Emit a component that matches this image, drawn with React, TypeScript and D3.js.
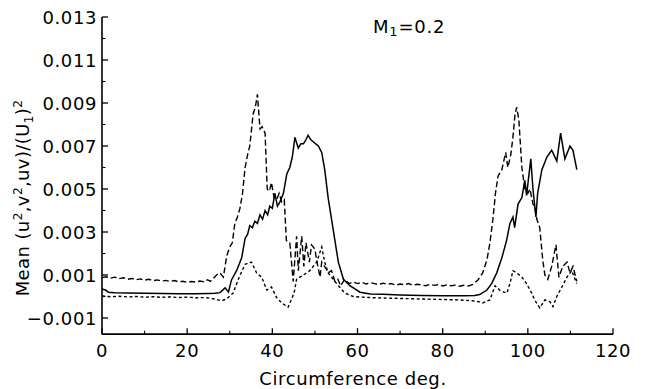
import React from "react";
import * as d3 from "d3";

type Pt = [number, number];

// Degrees along circumference, mean values
const dashedSeries: Pt[] = [
  [0,0.00088],[1,0.00092],[2,0.00085],[3,0.0009],[4,0.00083],[5,0.00087],[6,0.0008],[7,0.00084],[8,0.00078],[9,0.00082],
  [10,0.00076],[11,0.0008],[12,0.00074],[13,0.00077],[14,0.00072],[15,0.00075],[16,0.0007],[17,0.00074],[18,0.00068],[19,0.00071],
  [20,0.00066],[21,0.0007],[22,0.00067],[23,0.00072],[24,0.00068],[24.8,0.00078],[25.4,0.0007],[26.2,0.00085],[26.9,0.001],[27.7,0.0011],
  [28.5,0.0009],[29.3,0.0019],[30,0.0023],[30.6,0.0025],[31.2,0.0034],[31.8,0.0037],[32.4,0.0041],[33,0.0048],[33.6,0.006],[34.2,0.0066],
  [34.7,0.007],[35.5,0.0085],[36,0.0088],[36.5,0.0094],[37.1,0.0078],[37.6,0.0079],[38.3,0.0076],[38.8,0.005],[39.3,0.0049],[39.8,0.0053],
  [40.4,0.0046],[41,0.0045],[41.6,0.0048],[42.2,0.0044],[42.8,0.0045],[43.3,0.0026],[44.1,0.0025],[44.9,0.0007],[45.7,0.0028],[46.1,0.0012],
  [46.9,0.0028],[47.4,0.0014],[47.9,0.0025],[48.7,0.0016],[49.2,0.0024],[50,0.0022],[50.4,0.0017],[51.2,0.0009],[51.6,0.0016],[52.6,0.0013],
  [53.1,0.0011],[53.9,0.0012],[54.7,0.0007],[55.4,0.0008],[56,0.0005],[57,0.0008],[58,0.0006],[59,0.00068],[60,0.0006],[61,0.00066],
  [62,0.00058],[63,0.00064],[64,0.0006],[65,0.00055],[66,0.00062],[67,0.00057],[68,0.0006],[69,0.00053],[70,0.00058],[71,0.00055],
  [72,0.0006],[73,0.00052],[74,0.00057],[75,0.00054],[76,0.0005],[77,0.00056],[78,0.00052],[79,0.00055],[80,0.00049],[81,0.00054],
  [82,0.0005],[83,0.00053],[84,0.00048],[85,0.00052],[86,0.00049],[87,0.00055],[88.3,0.00077],[89.4,0.0011],[90.4,0.0017],[91.1,0.0025],
  [91.8,0.0036],[92.4,0.0048],[93,0.0056],[93.9,0.0059],[94.8,0.0067],[95.3,0.006],[96,0.0066],[96.5,0.0074],[97,0.0085],[97.4,0.0088],
  [97.9,0.0082],[98.6,0.006],[99.3,0.005],[100,0.0048],[100.5,0.005],[101.2,0.0043],[101.6,0.0042],[102.1,0.0036],[102.8,0.0032],[103.5,0.0017],
  [104,0.001],[104.7,0.0008],[105.6,0.0014],[106.6,0.0024],[107.3,0.0009],[108.2,0.0014],[109.2,0.0016],[109.9,0.0011],[110.6,0.0014],[111.5,0.0007],
];

const solidSeries: Pt[] = [
  [0,0.00035],[0.8,0.0003],[1.5,0.0002],[3,0.00017],[6,0.00016],[10,0.00015],[14,0.00014],[18,0.00013],[22,0.00013],[25,0.00014],
  [26.5,0.00015],[27.7,0.00018],[28.9,0.0004],[29.7,0.0002],[30.4,0.00077],[31.6,0.0012],[32.8,0.0018],[33.6,0.0027],[34.2,0.0029],[34.7,0.0033],
  [35.3,0.0032],[35.9,0.0035],[36.5,0.0034],[37.1,0.0038],[37.7,0.0036],[38.3,0.004],[38.9,0.0038],[39.4,0.0042],[40,0.0041],[40.6,0.0048],
  [41.2,0.0042],[41.8,0.0044],[42.6,0.0048],[43.4,0.0057],[44.1,0.006],[44.7,0.0065],[45.3,0.0074],[46.1,0.0069],[46.7,0.0071],[47.3,0.0071],
  [47.9,0.0073],[48.4,0.0075],[49,0.0073],[49.6,0.0072],[50.2,0.0071],[50.8,0.007],[51.6,0.0067],[52.3,0.0059],[53.1,0.0046],[53.9,0.0036],
  [54.7,0.0026],[55.5,0.0016],[56.7,0.0008],[58.2,0.0005],[60.6,0.0002],[63,0.00012],[66,0.0001],[70,0.00007],[75,0.00005],[80,0.00004],
  [85,0.00004],[87.5,0.00005],[88.7,0.00009],[90.4,0.0003],[91.5,0.0006],[92.7,0.0011],[93.9,0.0018],[95,0.0026],[95.8,0.0034],[96.5,0.0037],
  [96.9,0.0032],[97.7,0.0043],[98.6,0.0046],[99.3,0.0054],[99.7,0.0047],[100.7,0.0064],[101.2,0.005],[101.9,0.0037],[102.3,0.0048],[103.3,0.0059],
  [104.5,0.0065],[105.6,0.0068],[106.8,0.0063],[107.7,0.0076],[108.7,0.0064],[109.9,0.007],[110.6,0.0068],[111.5,0.0059],
];

const dottedSeries: Pt[] = [
  [0,0.00002],[2,-0.00001],[4,0.00001],[6,-0.00002],[8,0],[10,-0.00003],[12,-0.00001],[14,-0.00004],[16,-0.00002],[18,-0.00005],
  [20,-0.00003],[22,-0.00006],[24,-0.00005],[25.5,-0.00008],[26.9,-0.00014],[28.1,-0.0002],[29.2,-0.00012],[30.8,0.00016],[32.2,0.0009],[33.6,0.0015],
  [35.1,0.0016],[36.3,0.0011],[37.5,0.0009],[38.7,0.0003],[39.8,0.00044],[41,-0.00005],[42.2,-0.0003],[43.7,-0.0005],[45.1,0.00016],[45.7,0.0008],
  [47.3,0.001],[48.8,0.0012],[50.4,0.0016],[51.6,0.0023],[52.3,0.0016],[53.1,0.0011],[54.3,0.0008],[55.5,0.0005],[57,0.00016],[59,0],
  [61,-0.00003],[64,-0.00006],[68,-0.00008],[72,-0.0001],[76,-0.00012],[80,-0.00014],[84,-0.00016],[87,-0.0002],[88.7,-0.00025],[89.4,-0.0003],
  [91.1,-0.00016],[92.3,0.0005],[93.4,0.0003],[94.4,0.0002],[95.1,0.00016],[95.8,0.0006],[96.5,0.0012],[97.4,0.0011],[98.6,0.0009],[99.7,0.0006],
  [100.9,0.00016],[101.6,-0.00016],[102.8,-0.00053],[104,-0.00016],[105.2,-0.00025],[105.9,-0.00047],[106.8,0],[108,0.00044],[109.2,0.0009],[110.3,0.0012],
  [111.5,0.0006],
];

const xTickLabels = [0, 20, 40, 60, 80, 100, 120];
const xMinorTicks = [10, 30, 50, 70, 90, 110];
const yTickLabels = [-0.001, 0.001, 0.003, 0.005, 0.007, 0.009, 0.011, 0.013];
const yMinorTicks = [0, 0.002, 0.004, 0.006, 0.008, 0.010, 0.012];
const yAxisBottom = -0.00175;

const FONT = "'DejaVu Sans', sans-serif";

export default function App() {
  const x = d3.scaleLinear().domain([0, 120]).range([102, 613]);
  const y = d3.scaleLinear().domain([-0.001, 0.013]).range([318, 17]);
  const line = d3
    .line<Pt>()
    .x((d) => x(d[0]))
    .y((d) => y(d[1]));
  const fmt = d3.format(".3f");
  const x0 = x(0);
  const yBase = y(yAxisBottom);

  return (
    <svg
      width={646}
      height={389}
      style={{ position: "absolute", left: 0, top: 0, background: "#fff" }}
      fontFamily={FONT}
    >
      <rect width={646} height={389} fill="#fff" />
      {/* axes */}
      <line x1={x0} x2={x0} y1={y(0.013)} y2={yBase} stroke="#000" strokeWidth={1.6} />
      <line x1={x0} x2={x(120)} y1={yBase} y2={yBase} stroke="#000" strokeWidth={1.6} />
      {yTickLabels.map((v) => (
        <g key={"yt" + v}>
          <line x1={x0} x2={x0 + 6} y1={y(v)} y2={y(v)} stroke="#000" strokeWidth={1.3} />
          <text x={97} y={y(v) + 7} textAnchor="end" fontSize={18} letterSpacing={0.6}>
            {fmt(v)}
          </text>
        </g>
      ))}
      {yMinorTicks.map((v) => (
        <line key={"ym" + v} x1={x0} x2={x0 + 3.5} y1={y(v)} y2={y(v)} stroke="#000" strokeWidth={1.1} />
      ))}
      {xTickLabels.map((v) => (
        <g key={"xt" + v}>
          <line x1={x(v)} x2={x(v)} y1={yBase} y2={yBase - 6} stroke="#000" strokeWidth={1.3} />
          <text x={x(v)} y={357} textAnchor="middle" fontSize={18} letterSpacing={0.6}>
            {v}
          </text>
        </g>
      ))}
      {xMinorTicks.map((v) => (
        <line key={"xm" + v} x1={x(v)} x2={x(v)} y1={yBase} y2={yBase - 3.5} stroke="#000" strokeWidth={1.1} />
      ))}

      {/* series */}
      <path d={line(dashedSeries) || ""} fill="none" stroke="#000" strokeWidth={1.4} strokeDasharray="6,3" />
      <path d={line(solidSeries) || ""} fill="none" stroke="#000" strokeWidth={1.5} />
      <path d={line(dottedSeries) || ""} fill="none" stroke="#000" strokeWidth={1.4} strokeDasharray="3,2.5" />

      {/* axis titles */}
      <text x={353} y={385} textAnchor="middle" fontSize={18} letterSpacing={0.6}>
        Circumference deg.
      </text>
      <text
        transform="translate(29,198) rotate(-90)"
        textAnchor="middle"
        fontSize={18}
        letterSpacing={0.4}
      >
        Mean (u<tspan dy={-7} fontSize={12}>2</tspan>
        <tspan dy={7}>,v</tspan>
        <tspan dy={-7} fontSize={12}>2</tspan>
        <tspan dy={7}>,uv)/(U</tspan>
        <tspan dy={4} fontSize={12}>1</tspan>
        <tspan dy={-4}>)</tspan>
        <tspan dy={-7} fontSize={12}>2</tspan>
      </text>
      <text x={373} y={33} fontSize={18} letterSpacing={0.8}>
        M<tspan dy={3} fontSize={13}>1</tspan>
        <tspan dy={-3}>=0.2</tspan>
      </text>
    </svg>
  );
}
